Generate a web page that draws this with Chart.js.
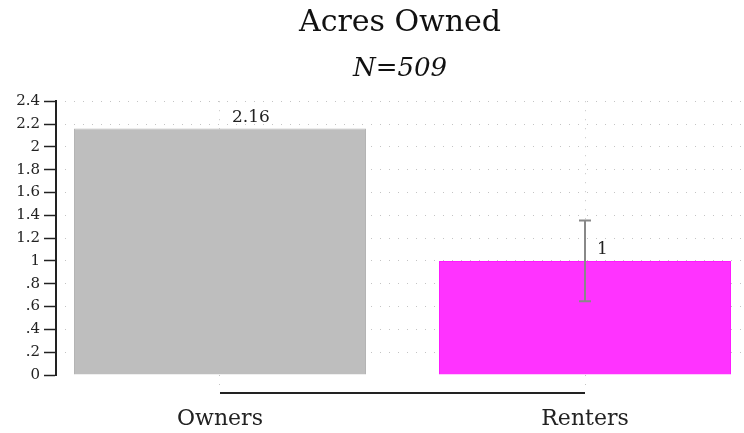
<!DOCTYPE html>
<html>
<head>
<meta charset="utf-8">
<script src="https://cdn.jsdelivr.net/npm/chart.js@4/dist/chart.umd.min.js"></script>
<style>
  html, body { margin: 0; padding: 0; background: #fff; }
  #wrap { width: 744px; height: 433px; }
</style>
</head>
<body>
<div id="wrap"><canvas id="chart" width="744" height="433"></canvas></div>
<script>
// data
const categories = ['Owners', 'Renters'];
const positions = [1, 2];
const means = [2.16, 1];
const errors = [null, 0.354];
const barColors = ['#bebebe', '#ff33ff'];
const barEdges = ['#b4b4b4', '#ff1aff'];
const yTicks = [0, 0.2, 0.4, 0.6, 0.8, 1, 1.2, 1.4, 1.6, 1.8, 2, 2.2, 2.4];

const serif = "'DejaVu Serif', 'Liberation Serif', serif";

// format like the original: 0.8 -> .8
const fmtTick = v => {
    if (v === 0) return '0';
    return String(+v.toFixed(1)).replace(/^0\./, '.');
};

// x axis line between the categories, value labels, error bars
const extras = {
    id: 'extras',
    afterDatasetsDraw(chart) {
        const {ctx, scales: {x, y}, chartArea} = chart;
        ctx.save();

        // short x axis line
        ctx.strokeStyle = '#222';
        ctx.lineWidth = 2;
        ctx.beginPath();
        const ay = chartArea.bottom + 18;
        ctx.moveTo(x.getPixelForValue(positions[0]), ay);
        ctx.lineTo(x.getPixelForValue(positions[positions.length - 1]), ay);
        ctx.stroke();

        // error bars
        ctx.strokeStyle = '#888';
        ctx.lineWidth = 2;
        errors.forEach((e, i) => {
            if (e == null) return;
            const px = x.getPixelForValue(positions[i]);
            const top = y.getPixelForValue(means[i] + e);
            const bot = y.getPixelForValue(means[i] - e);
            ctx.beginPath();
            ctx.moveTo(px, top); ctx.lineTo(px, bot);
            ctx.moveTo(px - 6, top); ctx.lineTo(px + 6, top);
            ctx.moveTo(px - 6, bot); ctx.lineTo(px + 6, bot);
            ctx.stroke();
        });

        // value labels
        ctx.fillStyle = '#222';
        ctx.font = "17px " + serif;
        ctx.textAlign = 'left';
        ctx.textBaseline = 'alphabetic';
        means.forEach((m, i) => {
            const px = x.getPixelForValue(positions[i]);
            const py = y.getPixelForValue(m);
            ctx.fillText(String(m), px + 12, py - 7);
        });
        ctx.restore();
    }
};

new Chart(document.getElementById('chart'), {
    type: 'bar',
    data: {
        datasets: [{
            data: positions.map((p, i) => ({x: p, y: means[i]})),
            backgroundColor: barColors,
            borderColor: barEdges,
            borderWidth: 1,
            categoryPercentage: 1,
            barPercentage: 0.8
        }]
    },
    options: {
        responsive: false,
        animation: false,
        layout: {padding: 0},
        plugins: {
            legend: {display: false},
            tooltip: {enabled: false},
            title: {
                display: true,
                text: 'Acres Owned',
                fullSize: false,
                color: '#111',
                font: {family: serif, size: 30, weight: 'normal', lineHeight: 1.2},
                padding: {top: 5, bottom: 0}
            },
            subtitle: {
                display: true,
                text: 'N=509',
                fullSize: false,
                color: '#111',
                font: {family: serif, size: 26, style: 'italic', lineHeight: 1.2},
                padding: {top: 13, bottom: 16}
            }
        },
        scales: {
            x: {
                type: 'linear',
                offset: false,
                min: 0.5507,
                max: 2.4356,
                afterBuildTicks: s => { s.ticks = positions.map(v => ({value: v})); },
                afterFit: s => { s.height = 58; },
                ticks: {
                    callback: v => categories[positions.indexOf(v)] || '',
                    color: '#222',
                    font: {family: serif, size: 22},
                    padding: 21,
                    maxRotation: 0
                },
                grid: {
                    offset: false,
                    color: '#c4c4c4',
                    lineWidth: 1,
                    tickLength: 10,
                    tickColor: '#c4c4c4',
                    tickBorderDash: [1, 8]
                },
                border: {display: false, dash: [1, 8]}
            },
            y: {
                min: 0,
                max: 2.4,
                afterBuildTicks: s => { s.ticks = yTicks.map(v => ({value: v})); },
                afterFit: s => { s.width = 56; },
                ticks: {
                    callback: v => fmtTick(v),
                    color: '#222',
                    font: {family: serif, size: 15},
                    padding: 4
                },
                grid: {
                    color: c => (c.tick && c.tick.value === 0) ? 'rgba(0,0,0,0)' : '#c4c4c4',
                    lineWidth: 1,
                    tickLength: 12,
                    tickColor: '#222',
                    tickWidth: 1.5,
                    tickBorderDash: []
                },
                border: {display: true, color: '#222', width: 2, dash: [1, 8], dashOffset: 1}
            }
        }
    },
    plugins: [extras]
});
</script>
</body>
</html>
